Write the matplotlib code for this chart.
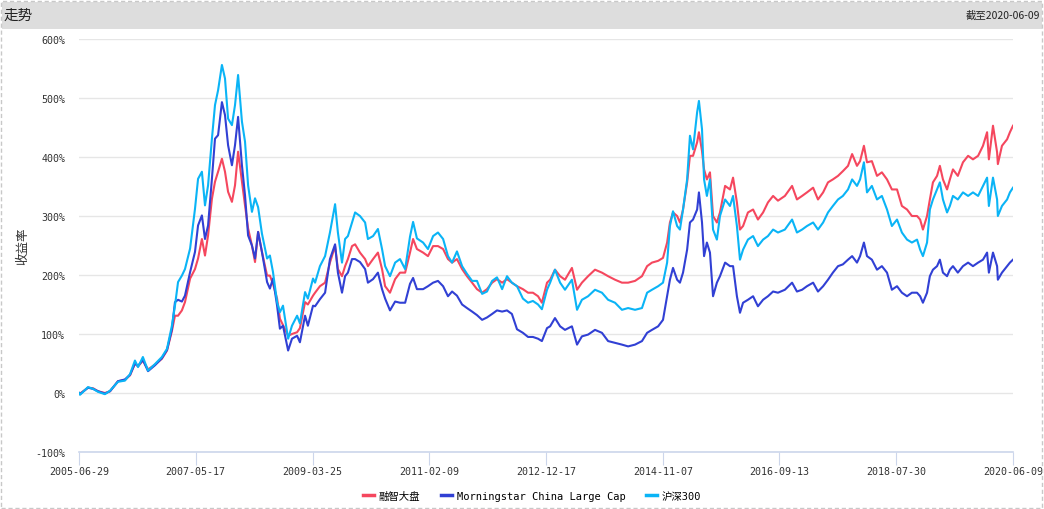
import matplotlib.pyplot as plt
from matplotlib.patches import Rectangle
import numpy as np

plt.rcParams['font.family'] = ['DejaVu Sans Mono', 'Noto Sans CJK SC']

# trading-day offset since 2005-06-29 (3640 = 2020-06-09)
days = [0, 4, 35, 55, 74, 101, 121, 152, 179, 199, 218, 230, 249, 269, 296, 323, 343, 362,
        374, 386, 401, 413, 433, 452, 464, 479, 491, 503, 518, 530, 542, 557, 569, 581, 596, 608,
        620, 635, 647, 659, 674, 686, 698, 713, 733, 744, 756, 772, 783, 795, 815, 830, 850, 861,
        881, 892, 912,
        920, 939, 959, 978, 998, 1009, 1025, 1037, 1048, 1064, 1076, 1095, 1115, 1126, 1146, 1165,
        1181, 1193, 1212, 1232, 1251, 1271, 1290, 1302, 1317, 1341, 1360, 1380, 1399, 1419, 1438,
        1454, 1473, 1493, 1512, 1532, 1551, 1571, 1590, 1610, 1629, 1649, 1668, 1687, 1707, 1730,
        1750, 1769, 1789, 1804, 1824,
        1836, 1855, 1875, 1894, 1921, 1941, 1960, 1984, 2011, 2038, 2062, 2089, 2116, 2140, 2167,
        2194, 2214, 2233, 2257, 2276, 2292, 2303, 2315, 2331, 2342, 2354, 2370, 2381, 2393, 2409,
        2416, 2428, 2436, 2447, 2459, 2471, 2486, 2498, 2518, 2537, 2549, 2564, 2576, 2588, 2607,
        2627, 2646, 2666, 2685, 2705, 2724,
        2751, 2779, 2798, 2818, 2837, 2861, 2880, 2900, 2919, 2938, 2958, 2977, 2997, 3013, 3032,
        3044, 3059, 3071, 3090, 3110, 3129, 3149, 3168, 3188, 3207, 3227, 3246, 3266, 3278, 3289,
        3305, 3316, 3328, 3344, 3355, 3367, 3383, 3394, 3406, 3425, 3445, 3465, 3484, 3504, 3523,
        3539, 3546, 3562, 3578, 3581, 3597, 3617, 3628, 3640]

rongzhi = [0, -1, 9, 8, 3, 0, 3, 20, 22, 30, 50, 45, 55, 40, 48, 58, 72, 105,
           131, 131, 140, 154, 194, 210, 228, 261, 233, 267, 329, 358, 375, 397, 375, 341, 324, 352,
           409, 358, 318, 279, 250, 222, 273, 239, 199, 199, 185, 160, 126, 115, 97, 100, 103, 110,
           154, 150, 165,
           170, 181, 187, 221, 249, 210, 198, 215, 227, 249, 252, 238, 227, 215, 227, 238, 210, 181,
           170, 193, 204, 204, 238, 261, 244, 238, 232, 249, 249, 244, 227, 221, 227, 210, 198, 187,
           176, 170, 176, 187, 193, 187, 193, 187, 181, 176, 170, 170, 164, 153, 187,
           192, 209, 198, 192, 212, 175, 187, 198, 209, 204, 198, 192, 187, 187, 190, 198, 215, 221,
           224, 229, 255, 289, 306, 300, 289, 311, 357, 402, 402, 425, 442, 410, 379, 362, 374, 300,
           289, 306, 351, 345, 365, 323, 277, 283, 306, 311, 294, 306, 323, 334, 326,
           334, 351, 328, 334, 340, 348, 328, 340, 357, 362, 368, 376, 385, 405, 385, 393, 419, 391,
           393, 368, 374, 362, 345, 345, 317, 311, 300, 300, 294, 277, 300, 328, 357, 368, 385, 362,
           345, 362, 379, 368, 391, 402, 396, 402, 419, 442, 396, 453, 408, 388, 419, 430, 442, 453]

morningstar = [0, -2, 9, 7, 3, -1, 3, 20, 23, 31, 50, 46, 56, 37, 47, 59, 73, 108,
               154, 158, 155, 165, 205, 239, 284, 301, 261, 284, 363, 431, 437, 493, 471, 420, 386,
               420, 468, 386, 335, 267, 250, 228, 273, 239, 188, 177, 194, 148, 109, 114, 72, 92, 97,
               86, 131, 114, 148,
               147, 159, 170, 227, 252, 204, 170, 198, 204, 227, 227, 222, 210, 187, 193, 204, 176,
               160, 140, 155, 153, 153, 185, 195, 176, 176, 181, 187, 190, 181, 164, 172, 165, 150,
               144, 138, 132, 124, 128, 134, 140, 138, 140, 134, 108, 102, 95, 95, 92, 88, 110,
               113, 127, 113, 107, 113, 82, 96, 99, 107, 102, 88, 85, 82, 79, 82, 88, 102, 107, 113,
               124, 164, 192, 212, 192, 187, 204, 243, 289, 294, 311, 340, 289, 232, 255, 238, 164,
               187, 198, 221, 215, 215, 164, 136, 153, 158, 164, 147, 158, 164, 172, 170,
               175, 187, 172, 175, 181, 187, 172, 181, 192, 204, 215, 218, 226, 232, 221, 232, 255,
               232, 226, 209, 215, 204, 175, 181, 170, 164, 170, 170, 164, 153, 170, 198, 209, 215,
               226, 204, 198, 209, 215, 204, 215, 221, 215, 221, 226, 238, 204, 238, 215, 192, 204,
               215, 221, 226]

hs300 = [0, -3, 10, 7, 2, -2, 4, 19, 21, 32, 55, 44, 61, 38, 49, 61, 75, 114,
         148, 188, 199, 210, 245, 312, 363, 375, 318, 352, 431, 488, 513, 556, 533, 465, 454, 488,
         539, 460, 426, 352, 307, 330, 315, 270, 228, 233, 205, 154, 137, 148, 92, 114, 131, 118,
         171, 160, 194,
         187, 215, 232, 272, 320, 272, 221, 261, 266, 289, 306, 300, 289, 261, 266, 278, 244, 215,
         198, 221, 227, 210, 265, 290, 262, 255, 244, 266, 272, 261, 232, 221, 240, 215, 202, 190,
         190, 168, 172, 190, 196, 176, 198, 187, 181, 160, 153, 156, 150, 142, 175,
         187, 209, 187, 175, 192, 141, 158, 164, 175, 170, 158, 153, 141, 144, 141, 144, 170, 175,
         181, 187, 221, 283, 308, 283, 277, 311, 362, 436, 413, 476, 495, 447, 362, 334, 362, 277,
         260, 300, 328, 317, 334, 283, 226, 243, 260, 266, 249, 260, 266, 277, 272,
         277, 294, 272, 277, 283, 289, 277, 289, 306, 317, 328, 334, 345, 362, 351, 362, 391, 340,
         351, 328, 334, 311, 283, 294, 272, 260, 255, 260, 243, 232, 255, 311, 328, 345, 357, 328,
         306, 317, 334, 328, 340, 334, 340, 334, 351, 365, 317, 365, 328, 300, 317, 328, 340, 348]

tick_days = [0, 455, 910, 1365, 1820, 2275, 2730, 3185, 3640]
tick_labels = ['2005-06-29', '2007-05-17', '2009-03-25', '2011-02-09', '2012-12-17',
               '2014-11-07', '2016-09-13', '2018-07-30', '2020-06-09']
names = ['融智大盘', 'Morningstar China Large Cap', '沪深300']
colors = ['#f5475e', '#3140d4', '#0ab4f6']

fig = plt.figure(figsize=(10.44, 5.10), dpi=100)
fig.patch.set_facecolor('white')

# header bar and dashed frame
fig.patches.append(Rectangle((0.002, 1 - 30 / 510), 0.996, 27 / 510, transform=fig.transFigure,
                             facecolor='#dddddd', edgecolor='none'))
fig.patches.append(Rectangle((0.001, 0.002), 0.997, 0.995, transform=fig.transFigure,
                             facecolor='none', edgecolor='#c8c8c8', lw=1, ls=(0, (3, 2))))
fig.text(4 / 1044, 1 - 16 / 510, '走势', fontsize=10.5, va='center', ha='left',
         family=['Noto Sans CJK SC'], color='#222222')
fig.text(1040 / 1044, 1 - 16 / 510, '截至2020-06-09', fontsize=7.5, va='center', ha='right',
         family=['Noto Sans CJK SC'], color='#222222')

ax = fig.add_axes([79 / 1044, 1 - 453 / 510, 934 / 1044, 413 / 510])
series = [rongzhi, morningstar, hs300]
for vals, name, c in zip(series, names, colors):
    ax.plot(days, vals, color=c, lw=1.5, label=name)

ax.set_xlim(0, 3640)
ax.set_ylim(-100, 600)
ax.set_yticks(range(-100, 601, 100))
ax.set_yticklabels([f'{v}%' for v in range(-100, 601, 100)])
ax.set_xticks(tick_days)
ax.set_xticklabels(tick_labels)
ax.grid(axis='y', color='#e6e6e6', lw=1)
ax.set_axisbelow(True)
for s in ['top', 'right', 'left']:
    ax.spines[s].set_visible(False)
ax.spines['bottom'].set_color('#ccd6eb')
ax.spines['bottom'].set_linewidth(1.2)
ax.tick_params(axis='y', length=0, labelsize=7.2, labelcolor='#333333', pad=10)
ax.tick_params(axis='x', length=9, color='#ccd6eb', labelsize=7.2, labelcolor='#333333', pad=1)
ax.set_ylabel('收益率', family=['Noto Sans CJK SC'], fontsize=9, color='#333333', labelpad=4)

leg = fig.legend(loc='center', bbox_to_anchor=(0.51, 1 - 497 / 510), ncol=3, frameon=False,
                 fontsize=7.5, handlelength=1.0, handletextpad=0.5, columnspacing=2.0)
for h in leg.get_lines():
    h.set_linewidth(2.5)

fig.savefig('out.png', dpi=100, facecolor='white')
